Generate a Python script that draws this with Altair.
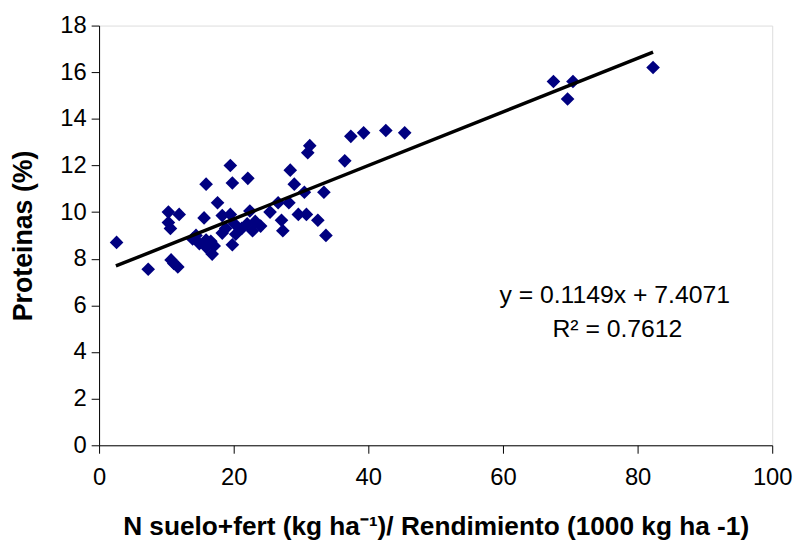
import altair as alt
import pandas as pd

# Scatter values
x_vals = [2.6, 7.3, 10.3, 11.9, 10.3, 10.6, 10.7, 11.1, 11.7, 13.9, 14.4, 14.9,
          15.6, 15.9, 15.9, 15.9, 16.6, 16.8, 17.1, 17.6, 18.3, 18.3, 18.8, 19.5,
          19.5, 19.8, 19.8, 20.3, 20.1, 21.2, 22.0, 22.1, 22.4, 22.8, 23.2, 24.0,
          25.4, 26.6, 27.1, 27.3, 28.2, 28.4, 29.0, 29.6, 30.5, 30.8, 31.0, 31.3,
          32.5, 33.4, 33.7, 36.5, 37.4, 39.3, 42.6, 45.4, 67.5, 69.6, 70.4, 82.3]
y_vals = [8.7, 7.55, 10.0, 9.9, 9.55, 9.3, 7.95, 7.8, 7.65, 8.85, 9.0, 8.65,
          9.75, 11.2, 8.8, 8.5, 8.75, 8.2, 8.55, 10.4, 9.1, 9.85, 9.3, 12.0,
          9.9, 11.25, 8.6, 9.05, 9.5, 9.3, 9.5, 11.45, 10.05, 9.2, 9.6, 9.4,
          10.0, 10.4, 9.65, 9.2, 10.4, 11.8, 11.2, 9.9, 10.85, 9.9, 12.55, 12.85,
          9.65, 10.85, 9.0, 12.2, 13.25, 13.4, 13.5, 13.4, 15.6, 14.85, 15.6, 16.2]

# Trend line end points (y = 0.1149x + 7.4071) as drawn
line_x = [2.5, 82.3]
line_y = [7.69, 16.86]

# Equation annotation
eq_text = ["y = 0.1149x + 7.4071", "R\u00b2 = 0.7612"]
eq_x = [76.6, 77.0]
eq_y = [6.45, 4.97]

x_ticks = [0, 20, 40, 60, 80, 100]
y_ticks = [0, 2, 4, 6, 8, 10, 12, 14, 16, 18]

pts = pd.DataFrame({"x": x_vals, "y": y_vals})
line_df = pd.DataFrame({"x": line_x, "y": line_y})
eq_df = pd.DataFrame({"x": eq_x, "y": eq_y, "t": eq_text})

FONT = "Liberation Sans"

xscale = alt.Scale(domain=[0, 100], nice=False, zero=False)
yscale = alt.Scale(domain=[0, 18], nice=False, zero=False)

xaxis = alt.Axis(values=x_ticks, title="N suelo+fert (kg ha\u207b\u00b9)/ Rendimiento (1000 kg ha -1)",
                 grid=False, tickSize=8, labelPadding=13, labelFontSize=24,
                 titleFontSize=26.5, titleFontWeight="bold", titlePadding=24,
                 labelFont=FONT, titleFont=FONT, domainColor="black", tickColor="black",
                 labelColor="black", titleColor="black", labelFlush=False, labelOverlap=False)
yaxis = alt.Axis(values=y_ticks, title="Proteinas (%)", grid=False, tickSize=8,
                 labelPadding=5, labelFontSize=24, titleFontSize=27, titleFontWeight="bold",
                 titlePadding=23, labelFont=FONT, titleFont=FONT, domainColor="black",
                 tickColor="black", labelColor="black", titleColor="black",
                 labelFlush=False, labelOverlap=False)

points = alt.Chart(pts).mark_point(shape="diamond", filled=True, size=190,
                                   color="#000080", opacity=1).encode(
    x=alt.X("x:Q", scale=xscale, axis=xaxis),
    y=alt.Y("y:Q", scale=yscale, axis=yaxis),
)

trend = alt.Chart(line_df).mark_line(color="black", strokeWidth=3.5).encode(
    x=alt.X("x:Q", scale=xscale),
    y=alt.Y("y:Q", scale=yscale),
)

eq = alt.Chart(eq_df).mark_text(fontSize=25, font=FONT, color="black",
                                align="center", baseline="middle").encode(
    x=alt.X("x:Q", scale=xscale),
    y=alt.Y("y:Q", scale=yscale),
    text="t:N",
)

chart = alt.layer(points, trend, eq).properties(
    width=680, height=424,
    autosize=alt.AutoSizeParams(type="none"),
    padding={"left": 92, "top": 15, "right": 22, "bottom": 101},
).configure_view(stroke=None).configure(background="white")

chart.save("out.html", embed_options={"renderer": "svg", "actions": False})
